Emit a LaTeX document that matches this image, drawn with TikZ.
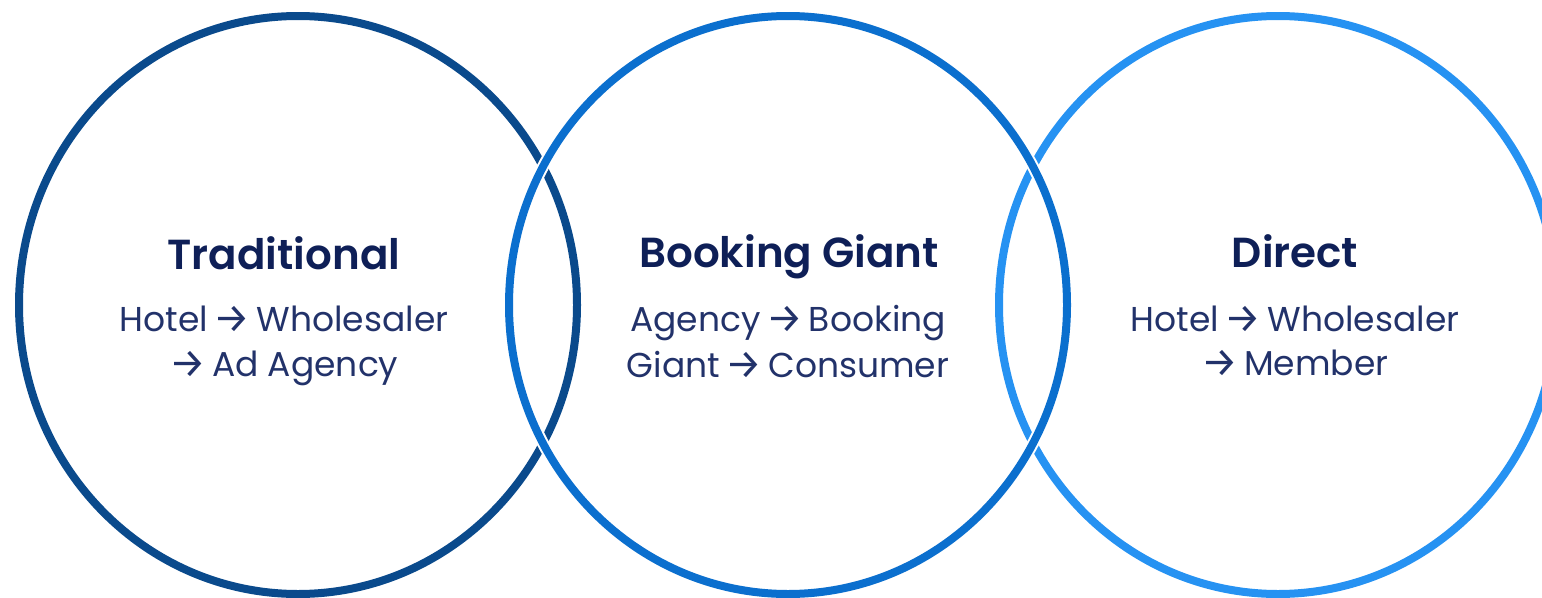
\documentclass[tikz,border=0pt]{standalone}
\usepackage{fontspec}
\setmainfont{Poppins}
\newfontfamily\titlefont{Poppins SemiBold}
\newfontfamily\arrowfont{Fira Sans}
\definecolor{cleft}{HTML}{0A4A8C}
\definecolor{cmid}{HTML}{0B6FCE}
\definecolor{cright}{HTML}{2692F2}
\definecolor{ctitle}{HTML}{0E1F57}
\definecolor{cbody}{HTML}{22326A}
\newcommand{\arr}{{\arrowfont\fontsize{41pt}{41pt}\selectfont\raisebox{-1pt}{→}}}
\tikzset{
  ring/.style={line width=8pt},
  halo/.style={line width=12pt, white},
  title/.style={font=\titlefont\fontsize{42pt}{50pt}\selectfont, text=ctitle, anchor=base, inner sep=0pt},
  body/.style={font=\fontsize{34.5pt}{40pt}\selectfont, text=cbody, anchor=base, inner sep=0pt},
}
\begin{document}
\begin{tikzpicture}[x=1pt,y=-1pt]
\useasboundingbox (0,0) rectangle (1542,597);
\clip (0,0) rectangle (1542,597);
\coordinate (cL) at (298,305);
\coordinate (cM) at (788,305);
\coordinate (cR) at (1278,305);
\draw[ring, cleft] (cL) ellipse [x radius=279pt, y radius=289pt];
\draw[ring, cright] (cR) ellipse [x radius=279pt, y radius=289pt];
\draw[halo] (cM) ellipse [x radius=279pt, y radius=289pt];
\draw[ring, cmid] (cM) ellipse [x radius=279pt, y radius=289pt];
\node[title] (tL) at (284,269) {Traditional};
\node[body] (bL1) at (284,331) {Hotel\,\arr\,Wholesaler};
\node[body] (bL2) at (284,376) {\arr\,Ad Agency};
\node[title] (tM) at (789,267) {Booking Giant};
\node[body] (bM1) at (788,331) {Agency\,\arr\,Booking};
\node[body] (bM2) at (788,377) {Giant\,\arr\,Consumer};
\node[title] (tR) at (1295,267) {Direct};
\node[body] (bR1) at (1295,331) {Hotel\,\arr\,Wholesaler};
\node[body] (bR2) at (1295,375) {\arr\,Member};
\end{tikzpicture}
\end{document}
